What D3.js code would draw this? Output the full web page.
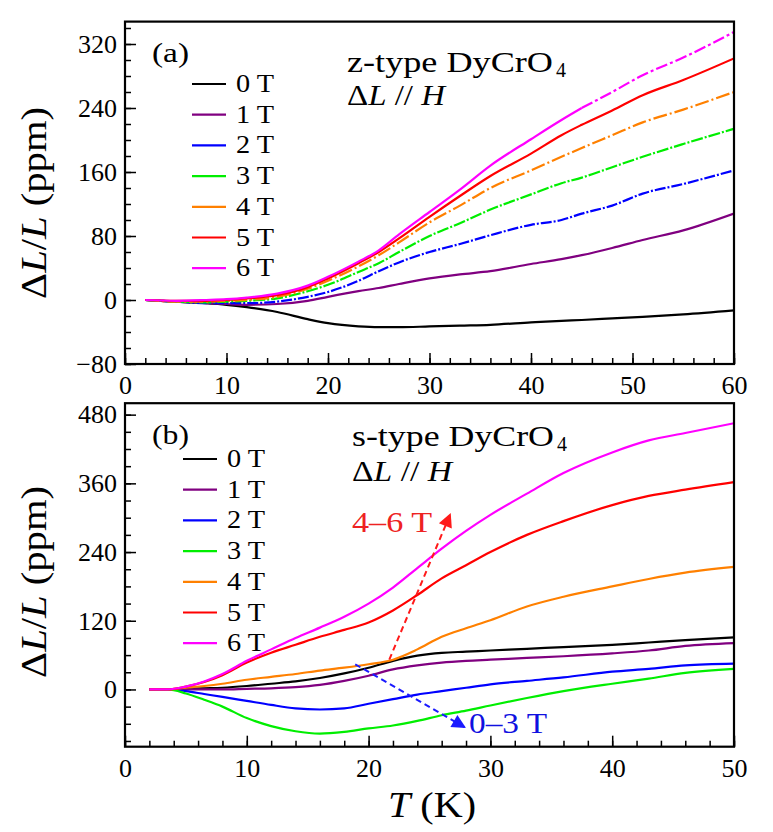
<!DOCTYPE html>
<html>
<head>
<meta charset="utf-8">
<script src="https://cdn.jsdelivr.net/npm/d3@7"></script>
<style>
  html, body { margin: 0; padding: 0; background: #fff; }
  svg { display: block; }
</style>
</head>
<body>
<svg id="chart" width="773" height="832"></svg>
<script>
// ---------------- DATA ----------------
const fieldLabels = ["0 T", "1 T", "2 T", "3 T", "4 T", "5 T", "6 T"];
const seriesColors = ["#000000", "#800080", "#0000ff", "#00ee00", "#ff8000", "#ff0000", "#ff00ff"];

// Panel (a): z-type DyCrO4
const tempA = [2, 5, 8, 10, 12, 15, 18, 20, 23, 25, 27, 30, 33, 36, 40, 43, 45, 48, 51, 55, 60];
const a0T = [0, -2, -4, -6, -9, -15, -24, -29, -33, -34, -34, -33, -32, -31, -28, -26, -25, -23, -21, -18, -13];
const a1T = [0, -2, -4, -5, -6, -5, -1, 4, 11, 15, 20, 27, 32, 36, 45, 51, 56, 65, 75, 87, 108];
const a2T = [0, -2, -4, -4, -4, -2, 4, 10, 24, 36, 47, 60, 70, 81, 94, 100, 108, 118, 133, 145, 162];
const a3T = [0, -2, -3, -2, -1, 2, 11, 19, 35, 46, 60, 80, 96, 113, 132, 146, 153, 166, 179, 195, 214];
const a4T = [0, -2, -2, -1, 0, 4, 14, 24, 42, 56, 72, 97, 118, 140, 162, 179, 190, 206, 222, 238, 260];
const a5T = [0, -1, -1, 0, 2, 6, 16, 27, 46, 60, 77, 104, 130, 155, 183, 206, 219, 237, 256, 275, 302];
const a6T = [0, -1, 0, 1, 3, 8, 18, 29, 48, 62, 82, 110, 138, 168, 201, 225, 240, 260, 281, 303, 335];

// Panel (b): s-type DyCrO4
const tempB = [2, 3.5, 5, 6.5, 8, 10, 12, 14, 16, 18, 20, 22, 24, 26, 28, 30, 33, 36, 40, 43, 46, 50];
const b0T = [0, 0, 1, 2, 3, 6, 10, 14, 20, 28, 38, 50, 59, 64, 66, 68, 71, 74, 78, 82, 86, 91];
const b1T = [0, 0, 0, 0, 0, 1, 2, 4, 8, 15, 24, 35, 42, 47, 50, 52, 55, 58, 63, 68, 76, 81];
const b2T = [0, 0, -3, -8, -13, -20, -27, -33, -35, -33, -25, -17, -9, -3, 3, 9, 15, 21, 31, 36, 42, 45];
const b3T = [0, 0, -7, -18, -30, -50, -64, -73, -77, -74, -68, -63, -55, -45, -37, -28, -15, -3, 10, 19, 29, 36];
const b4T = [0, 0, 3, 6, 10, 17, 22, 27, 33, 38, 44, 52, 70, 92, 107, 121, 145, 162, 180, 193, 204, 214];
const b5T = [0, 0, 5, 13, 25, 47, 64, 78, 92, 104, 117, 138, 165, 194, 217, 240, 270, 294, 322, 338, 349, 362];
const b6T = [0, 0, 5, 14, 27, 50, 70, 90, 108, 127, 150, 178, 212, 246, 277, 305, 342, 378, 414, 435, 448, 465];

// Axis ticks
const xTicksA = [0, 10, 20, 30, 40, 50, 60];
const yTicksA = [-80, 0, 80, 160, 240, 320];
const xTicksB = [0, 10, 20, 30, 40, 50];
const yTicksB = [0, 120, 240, 360, 480];

// Annotation arrows in panel (b) (data coordinates: [T, dL/L])
const arrowHigh = [[21.7, 52], [26.7, 306]];
const arrowLow = [[18.9, 44], [27.9, -66]];

// ---------------- DRAW ----------------
const FONT = '"Liberation Serif", "Times New Roman", serif';
const svg = d3.select("#chart").style("font-family", FONT);

const panels = [
  {
    x: d3.scaleLinear().domain([0, 60]).range([125, 734]),
    y: d3.scaleLinear().domain([-80, 348]).range([364, 21.6]),
    t: tempA, series: [a0T, a1T, a2T, a3T, a4T, a5T, a6T],
    xTicks: xTicksA, yTicks: yTicksA, yMinor: d3.range(-80, 341, 20), xMinor: d3.range(0, 61, 2),
    dash: [null, null, "11,2,2,2", "12,2,2,2", "14,3,2,3", null, null],
    tag: "(a)", tagX: 152, tagY: 62, title: "z-type DyCrO", titleX: 347, titleY: 72, titleLen: 206,
    subY: 105, subLen: 98, legendX: 192, legendY: 84, ylabCenter: 203
  },
  {
    x: d3.scaleLinear().domain([0, 50]).range([125, 734]),
    y: d3.scaleLinear().domain([-100, 500]).range([746.7, 403.2]),
    t: tempB, series: [b0T, b1T, b2T, b3T, b4T, b5T, b6T],
    xTicks: xTicksB, yTicks: yTicksB, yMinor: d3.range(-90, 481, 30), xMinor: d3.range(0, 51, 2),
    dash: [null, null, null, null, null, null, null],
    tag: "(b)", tagX: 152, tagY: 444, title: "s-type DyCrO", titleX: 352, titleY: 446, titleLen: 202,
    subY: 481, subLen: 100, legendX: 183, legendY: 459, ylabCenter: 582
  }
];

const defs = svg.append("defs");
[["ahRed", "#ff1a1a"], ["ahBlue", "#1a1aff"]].forEach(([id, c]) => {
  defs.append("marker").attr("id", id).attr("viewBox", "0 0 10 10")
    .attr("refX", 9).attr("refY", 5)
    .attr("markerUnits", "userSpaceOnUse").attr("orient", "auto")
    .attr("markerWidth", 18).attr("markerHeight", 14)
    .append("path").attr("d", "M0,0 L10,5 L0,10 Z").attr("fill", c);
});

function styleAxisText(a, size) {
  a.attr("font-family", null);
  a.selectAll("text").attr("font-size", size).style("font-family", FONT);
}
function fit(sel, len) {
  return sel.attr("textLength", len).attr("lengthAdjust", "spacingAndGlyphs");
}

panels.forEach((p, pi) => {
  const g = svg.append("g");
  const [x0, x1] = p.x.range();
  const [y0, y1] = p.y.range();

  const clipId = "clip" + pi;
  defs.append("clipPath").attr("id", clipId).append("rect")
    .attr("x", x0).attr("y", y1).attr("width", x1 - x0).attr("height", y0 - y1);

  // minor ticks
  g.append("g").attr("transform", `translate(0,${y0})`)
    .call(d3.axisBottom(p.x).tickValues(p.xMinor).tickSize(-6).tickFormat(""))
    .call(a => a.select(".domain").remove())
    .call(a => a.selectAll("line").attr("stroke-width", 1.5));
  g.append("g").attr("transform", `translate(${x0},0)`)
    .call(d3.axisLeft(p.y).tickValues(p.yMinor).tickSize(-6).tickFormat(""))
    .call(a => a.select(".domain").remove())
    .call(a => a.selectAll("line").attr("stroke-width", 1.5));

  // major ticks with labels
  g.append("g").attr("transform", `translate(0,${y0})`)
    .call(d3.axisBottom(p.x).tickValues(p.xTicks).tickSize(-11).tickPadding(12))
    .call(a => a.select(".domain").remove())
    .call(a => a.selectAll("line").attr("stroke-width", 1.5))
    .call(a => styleAxisText(a, 26));
  g.append("g").attr("transform", `translate(${x0},0)`)
    .call(d3.axisLeft(p.y).tickValues(p.yTicks).tickSize(-11).tickPadding(8))
    .call(a => a.select(".domain").remove())
    .call(a => a.selectAll("line").attr("stroke-width", 1.5))
    .call(a => styleAxisText(a, 26));

  // curves
  const line = d3.line().x(d => p.x(d[0])).y(d => p.y(d[1])).curve(d3.curveMonotoneX);
  const cg = g.append("g").attr("clip-path", `url(#${clipId})`);
  p.series.forEach((vals, si) => {
    const pts = p.t.map((t, i) => [t, vals[i]]);
    if (pi === 0 && si === 6) {
      cg.append("path").attr("d", line(pts.filter(d => d[0] <= 45)))
        .attr("fill", "none").attr("stroke", seriesColors[si]).attr("stroke-width", 2.2);
      cg.append("path").attr("d", line(pts.filter(d => d[0] >= 45)))
        .attr("fill", "none").attr("stroke", seriesColors[si]).attr("stroke-width", 2.2)
        .attr("stroke-dasharray", "12,3,3,3");
    } else {
      cg.append("path").attr("d", line(pts))
        .attr("fill", "none").attr("stroke", seriesColors[si]).attr("stroke-width", 2.2)
        .attr("stroke-dasharray", p.dash[si]);
    }
  });

  // frame
  g.append("rect").attr("x", x0).attr("y", y1).attr("width", x1 - x0).attr("height", y0 - y1)
    .attr("fill", "none").attr("stroke", "#000").attr("stroke-width", 2.2);

  // legend
  const lg = g.append("g");
  fieldLabels.forEach((lab, i) => {
    const yy = p.legendY + i * 30.7;
    lg.append("line").attr("x1", p.legendX).attr("x2", p.legendX + 34).attr("y1", yy).attr("y2", yy)
      .attr("stroke", seriesColors[i]).attr("stroke-width", 2.2);
    fit(lg.append("text").attr("x", p.legendX + 44).attr("y", yy + 8).attr("font-size", 25), 38).text(lab);
  });

  // tag + title
  fit(g.append("text").attr("x", p.tagX).attr("y", p.tagY).attr("font-size", 28), 37).text(p.tag);
  fit(g.append("text").attr("x", p.titleX).attr("y", p.titleY).attr("font-size", 29), p.titleLen).text(p.title);
  g.append("text").attr("x", p.titleX + p.titleLen + 3).attr("y", p.titleY + 5).attr("font-size", 20).text("4");
  const t2 = fit(g.append("text").attr("x", p.titleX).attr("y", p.subY).attr("font-size", 29), p.subLen);
  t2.append("tspan").text("Δ");
  t2.append("tspan").attr("font-style", "italic").text("L");
  t2.append("tspan").text(" // ");
  t2.append("tspan").attr("font-style", "italic").text("H");

  // y label
  const yl = fit(svg.append("text")
    .attr("transform", `translate(46,${p.ylabCenter}) rotate(-90)`)
    .attr("text-anchor", "middle").attr("font-size", 36), 192);
  yl.append("tspan").text("Δ");
  yl.append("tspan").attr("font-style", "italic").text("L");
  yl.append("tspan").text("/");
  yl.append("tspan").attr("font-style", "italic").text("L");
  yl.append("tspan").text(" (ppm)");
});

// x label
const xl = fit(svg.append("text").attr("x", 432).attr("y", 817).attr("text-anchor", "middle").attr("font-size", 35), 88);
xl.append("tspan").attr("font-style", "italic").text("T");
xl.append("tspan").text(" (K)");

// annotations in panel (b)
const pb = panels[1];
svg.append("line")
  .attr("x1", pb.x(arrowHigh[0][0])).attr("y1", pb.y(arrowHigh[0][1]))
  .attr("x2", pb.x(arrowHigh[1][0])).attr("y2", pb.y(arrowHigh[1][1]))
  .attr("stroke", "#ff1a1a").attr("stroke-width", 2).attr("stroke-dasharray", "6,4")
  .attr("marker-end", "url(#ahRed)");
svg.append("line")
  .attr("x1", pb.x(arrowLow[0][0])).attr("y1", pb.y(arrowLow[0][1]))
  .attr("x2", pb.x(arrowLow[1][0])).attr("y2", pb.y(arrowLow[1][1]))
  .attr("stroke", "#1a1aff").attr("stroke-width", 2).attr("stroke-dasharray", "6,4")
  .attr("marker-end", "url(#ahBlue)");
fit(svg.append("text").attr("x", 352).attr("y", 532).attr("font-size", 30), 80)
  .style("fill", "#ee2222").text("4–6 T");
fit(svg.append("text").attr("x", 469).attr("y", 733).attr("font-size", 30), 78)
  .style("fill", "#1010e0").text("0–3 T");
</script>
</body>
</html>
